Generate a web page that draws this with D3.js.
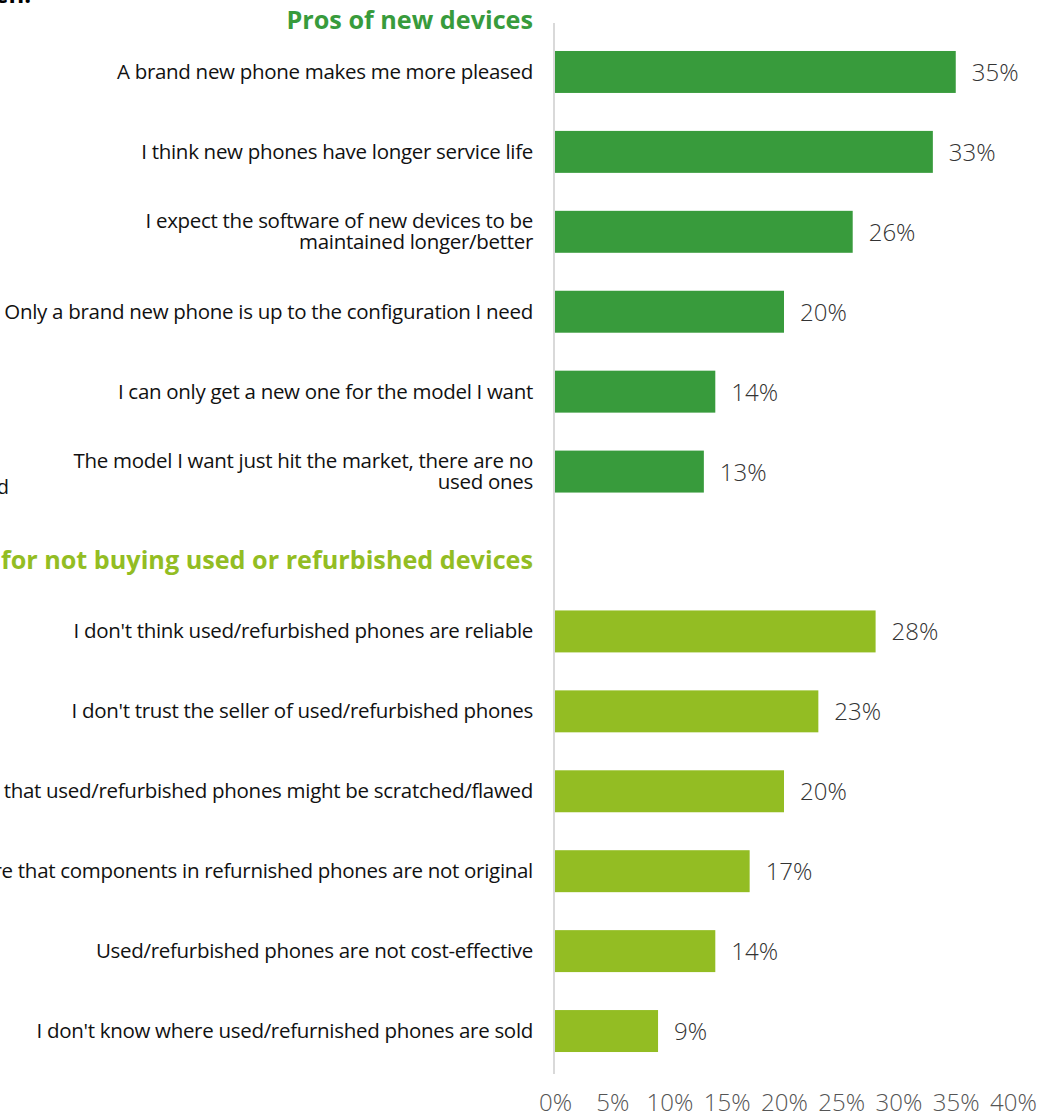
<!DOCTYPE html>
<html>
<head>
<meta charset="utf-8">
<script src="https://cdn.jsdelivr.net/npm/d3@7"></script>
<style>
  html, body { margin: 0; padding: 0; background: #fff; overflow: hidden; }
  svg { display: block; font-family: "Open Sans", sans-serif; }
</style>
</head>
<body>
<svg id="chart" width="1057" height="1115"></svg>
<script>
// Survey answers, two groups of reasons, share of respondents (%)
const prosLabels = [
  ["A brand new phone makes me more pleased"],
  ["I think new phones have longer service life"],
  ["I expect the software of new devices to be", "maintained longer/better"],
  ["Only a brand new phone is up to the configuration I need"],
  ["I can only get a new one for the model I want"],
  ["The model I want just hit the market, there are no", "used ones"]
];
const prosValues = [35, 33, 26, 20, 14, 13];

const consLabels = [
  ["I don't think used/refurbished phones are reliable"],
  ["I don't trust the seller of used/refurbished phones"],
  ["I fear that used/refurbished phones might be scratched/flawed"],
  ["I'm not sure that components in refurnished phones are not original"],
  ["Used/refurbished phones are not cost-effective"],
  ["I don't know where used/refurnished phones are sold"]
];
const consValues = [28, 23, 20, 17, 14, 9];

const groupTitles = ["Pros of new devices", "Reasons for not buying used or refurbished devices"];
const tickValues = [0, 5, 10, 15, 20, 25, 30, 35, 40];

const colors = { pros: "#389b3c", cons: "#93bd23" };

// rows: 6 pros, one spacer slot, 6 cons
const rows = [];
prosLabels.forEach((l, i) => rows.push({ key: "p" + i, label: l, value: prosValues[i], group: "pros" }));
rows.push({ key: "gap", label: null, value: null, group: null });
consLabels.forEach((l, i) => rows.push({ key: "c" + i, label: l, value: consValues[i], group: "cons" }));

const svg = d3.select("#chart");

const x = d3.scaleLinear().domain([0, 40]).range([555, 1013]);
const y = d3.scaleBand()
  .domain(rows.map(d => d.key))
  .range([32, 1071])
  .paddingInner(0.475)
  .paddingOuter(0.2375);

// fragments of surrounding page text
svg.append("text")
  .attr("x", 31).attr("y", 3)
  .attr("text-anchor", "end")
  .attr("font-size", 24).attr("font-weight", 700)
  .attr("fill", "#000")
  .text("Reasons why a new phone was chosen.");
svg.append("text")
  .attr("x", 9).attr("y", 494)
  .attr("text-anchor", "end")
  .attr("font-size", 20)
  .attr("fill", "#111")
  .text("Reasons for choosing new over used");

// vertical baseline
svg.append("line")
  .attr("x1", x(0) - 1).attr("x2", x(0) - 1)
  .attr("y1", 23).attr("y2", 1074)
  .attr("stroke", "#d9d9d9").attr("stroke-width", 2);

const data = rows.filter(d => d.value !== null);

// bars
svg.append("g").selectAll("rect")
  .data(data)
  .join("rect")
  .attr("x", x(0))
  .attr("y", d => y(d.key))
  .attr("width", d => x(d.value) - x(0))
  .attr("height", y.bandwidth())
  .attr("fill", d => colors[d.group]);

// value labels
svg.append("g").selectAll("text")
  .data(data)
  .join("text")
  .attr("x", d => x(d.value) + 16)
  .attr("y", d => y(d.key) + y.bandwidth() / 2 + 9)
  .attr("font-size", 24).attr("font-weight", 300)
  .attr("fill", "#333")
  .text(d => d.value + "%");

// category labels (right aligned, one or two lines)
const lineH = 20.7;
const cat = svg.append("g").selectAll("text")
  .data(data)
  .join("text")
  .attr("text-anchor", "end")
  .attr("font-size", 20.5)
  .attr("letter-spacing", -0.3)
  .attr("fill", "#111");
cat.each(function (d) {
  const t = d3.select(this);
  const mid = y(d.key) + y.bandwidth() / 2;
  const n = d.label.length;
  d.label.forEach((line, i) => {
    t.append("tspan")
      .attr("x", 533)
      .attr("y", mid + 7 + (i - (n - 1) / 2) * lineH)
      .text(line);
  });
});

// group headings
svg.append("text")
  .attr("x", 533).attr("y", 29)
  .attr("text-anchor", "end")
  .attr("font-size", 25.2).attr("font-weight", 700)
  .attr("fill", colors.pros)
  .text(groupTitles[0]);
svg.append("text")
  .attr("x", 533).attr("y", 569)
  .attr("text-anchor", "end")
  .attr("font-size", 25.2).attr("font-weight", 700)
  .attr("fill", colors.cons)
  .text(groupTitles[1]);

// x axis tick labels
const xAxis = d3.axisBottom(x)
  .tickValues(tickValues)
  .tickFormat(d => d + "%")
  .tickSize(0)
  .tickPadding(0);
const ax = svg.append("g").attr("transform", "translate(0,1094)").call(xAxis);
ax.select(".domain").remove();
ax.selectAll("text")
  .attr("font-family", "Open Sans, sans-serif")
  .attr("font-size", 24).attr("font-weight", 300)
  .attr("fill", "#555")
  .attr("dy", "0.71em");
</script>
</body>
</html>
